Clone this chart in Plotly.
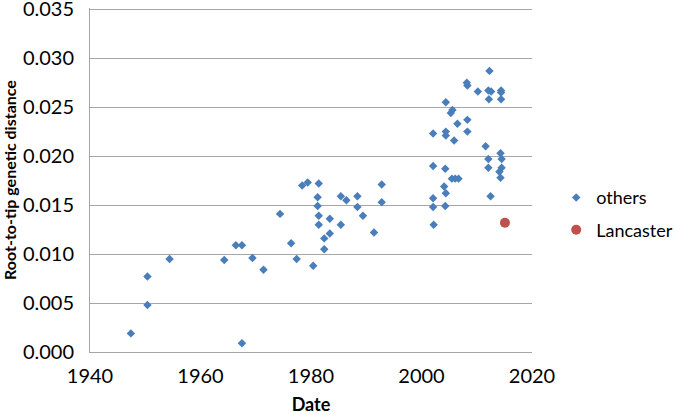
import plotly.graph_objects as go

# Datenpunkte
others_year = [
    1947.4, 1950.4, 1950.4, 1954.4, 1964.3, 1966.4, 1967.5, 1967.5, 1969.4, 1971.4,
    1974.4, 1976.4, 1977.4, 1978.4, 1979.4, 1980.4, 1981.4, 1981.2, 1981.2, 1981.4,
    1981.4, 1982.4, 1982.4, 1983.4, 1983.4, 1985.4, 1985.4, 1986.4, 1988.4, 1988.4,
    1989.4, 1991.4, 1992.8, 1992.8,
    2002.1, 2002.1, 2002.1, 2002.1, 2002.2, 2004.4, 2004.4, 2004.4, 2004.3, 2004.1,
    2004.4, 2004.3, 2005.6, 2005.3, 2005.9, 2005.5, 2006.1, 2006.7, 2006.5, 2008.2,
    2008.3, 2008.3, 2008.3, 2010.2, 2011.6, 2012.3, 2012.1, 2012.6, 2012.2, 2012.1,
    2012.1, 2012.5, 2014.4, 2014.4, 2014.4, 2014.3, 2014.5, 2014.5, 2014.1, 2014.3,
]
others_dist = [
    0.0019, 0.0077, 0.0048, 0.0095, 0.0094, 0.0109, 0.0109, 0.0009, 0.0096, 0.0084,
    0.0141, 0.0111, 0.0095, 0.0170, 0.0173, 0.0088, 0.0172, 0.0158, 0.0149, 0.0139,
    0.0130, 0.0116, 0.0105, 0.0136, 0.0121, 0.0159, 0.0130, 0.0155, 0.0159, 0.0148,
    0.0139, 0.0122, 0.0171, 0.0153,
    0.0223, 0.0190, 0.0157, 0.0148, 0.0130, 0.0255, 0.0225, 0.0221, 0.0187, 0.0169,
    0.0162, 0.0149, 0.0247, 0.0244, 0.0216, 0.0177, 0.0177, 0.0177, 0.0233, 0.0275,
    0.0272, 0.0237, 0.0225, 0.0266, 0.0210, 0.0287, 0.0267, 0.0266, 0.0258, 0.0197,
    0.0188, 0.0159, 0.0267, 0.0265, 0.0258, 0.0203, 0.0197, 0.0188, 0.0184, 0.0178,
]
lancaster_year = [2015.1]
lancaster_dist = [0.0132]

x_ticks = [1940, 1960, 1980, 2000, 2020]
y_ticks = [0.000, 0.005, 0.010, 0.015, 0.020, 0.025, 0.030, 0.035]

font = "Lato, Carlito, Calibri, sans-serif"

fig = go.Figure()
fig.add_trace(go.Scatter(
    x=others_year, y=others_dist, mode="markers", name="others",
    legendgroup="a",
    marker=dict(symbol="diamond", size=6.5, color="#4A7EBB"),
))
fig.add_trace(go.Scatter(
    x=lancaster_year, y=lancaster_dist, mode="markers", name="Lancaster",
    legendgroup="b",
    marker=dict(symbol="circle", size=10, color="#C0504D"),
))

fig.update_layout(
    width=675, height=415,
    margin=dict(l=90, r=143, t=8, b=63),
    paper_bgcolor="white", plot_bgcolor="white",
    font=dict(family=font, size=20, color="black"),
    showlegend=True,
    legend=dict(
        xref="container", yref="container",
        x=0.824, y=0.485, xanchor="left", yanchor="middle",
        traceorder="grouped", tracegroupgap=6,
        font=dict(size=18), bgcolor="rgba(0,0,0,0)",
    ),
    xaxis=dict(
        range=[1940, 2020], tickvals=x_ticks, ticktext=[str(v) for v in x_ticks],
        showgrid=False, zeroline=False, automargin=False,
        showline=True, linecolor="#A6A6A6", linewidth=1,
        ticks="", ticklabelstandoff=6, ticklabeloverflow="allow",
        title=dict(text="<b>Date</b>", font=dict(size=18), standoff=13),
    ),
    yaxis=dict(
        # oberes Ende minimal über 0.035, damit die oberste Gitterlinie sichtbar bleibt
        range=[0, 0.03512], tickvals=y_ticks, ticktext=[f"{v:.3f}" for v in y_ticks],
        showgrid=True, gridcolor="#A6A6A6", gridwidth=1, zeroline=False,
        showline=True, linecolor="#A6A6A6", linewidth=1, automargin=False,
        ticks="", ticklabelstandoff=11, ticklabeloverflow="allow",
        title=dict(text="<b>Root-to-tip genetic distance</b>", font=dict(size=16), standoff=12),
    ),
)

# Seitenrand des Browsers entfernen, damit die Grafik bei (0, 0) beginnt
fig.write_html(
    "out.html",
    config={"displayModeBar": False},
    post_script="document.body.style.margin='0px';",
)
